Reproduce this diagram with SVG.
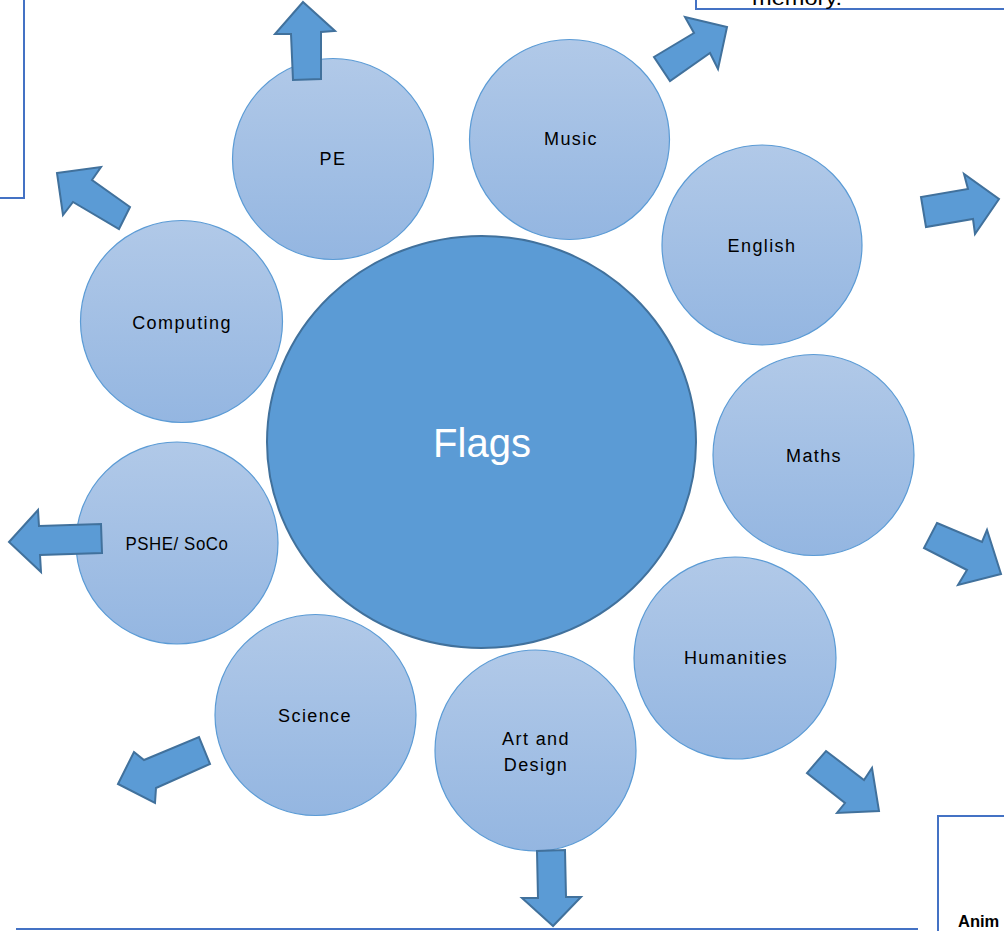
<svg xmlns="http://www.w3.org/2000/svg" width="1004" height="931" viewBox="0 0 1004 931">
<style>
.sub{fill:url(#g);stroke:#5b9bd5;stroke-width:1.2}
.lbl{font-family:"Liberation Sans",Arial,sans-serif;font-size:18px;letter-spacing:1.4px;fill:#000;text-anchor:middle}
.arr{fill:#5b9bd5;stroke:#41719c;stroke-width:2;stroke-linejoin:miter}
.box{fill:#fff;stroke:#4472c4;stroke-width:2}
</style>
<defs>
<linearGradient id="g" x1="0" y1="0" x2="0" y2="1">
<stop offset="0" stop-color="#b1c9e8"/>
<stop offset="1" stop-color="#94b6e1"/>
</linearGradient>
</defs>
<rect width="1004" height="931" fill="#fff"/>
<g id="box-topleft"><rect class="box" x="-10" y="-10" width="34" height="208"/></g>
<g id="box-topright"><rect class="box" x="696" y="-10" width="320" height="19"/>
<text x="797" y="5" font-family="Liberation Sans,Arial,sans-serif" font-size="20" text-anchor="middle" textLength="90" lengthAdjust="spacingAndGlyphs">memory.</text></g>
<g id="box-bottomright"><rect class="box" x="938" y="816" width="80" height="130"/>
<text x="958" y="927" font-family="Liberation Sans,Arial,sans-serif" font-size="16.5" font-weight="bold">Anim</text></g>
<line x1="16" y1="929" x2="918" y2="929" stroke="#4472c4" stroke-width="2"/>

<g id="flags"><ellipse cx="481.5" cy="442" rx="214.5" ry="206" fill="#5b9bd5" stroke="#41719c" stroke-width="2"/>
<text x="482" y="457" font-family="Liberation Sans,Arial,sans-serif" font-size="40" fill="#fff" text-anchor="middle">Flags</text></g>
<g id="pe"><circle class="sub" cx="333" cy="159" r="100.5"/><text class="lbl" x="333" y="165">PE</text></g>
<g id="music"><circle class="sub" cx="569.5" cy="139.5" r="100"/><text class="lbl" x="571" y="145">Music</text></g>
<g id="english"><circle class="sub" cx="762" cy="245" r="100"/><text class="lbl" x="762" y="252">English</text></g>
<g id="computing"><circle class="sub" cx="181.5" cy="321.5" r="101"/><text class="lbl" x="182" y="329">Computing</text></g>
<g id="maths"><circle class="sub" cx="813.5" cy="455" r="100.5"/><text class="lbl" x="814" y="462">Maths</text></g>
<g id="pshe"><circle class="sub" cx="177" cy="543" r="101"/><text class="lbl" x="177" y="550" textLength="103" lengthAdjust="spacingAndGlyphs" style="letter-spacing:0.6px">PSHE/ SoCo</text></g>
<g id="humanities"><circle class="sub" cx="735" cy="658" r="101"/><text class="lbl" x="736" y="664">Humanities</text></g>
<g id="science"><circle class="sub" cx="315.5" cy="715" r="100.5"/><text class="lbl" x="315" y="722">Science</text></g>
<g id="art"><circle class="sub" cx="535.5" cy="750.5" r="100.5"/><text class="lbl" x="536" y="745">Art and</text><text class="lbl" x="536" y="771">Design</text></g>

<g id="connectors">
<polygon class="arr" points="303,2 335,31 321,32 321,79 293,80 291,34 275,34"/>
<polygon class="arr" points="727,27 718,69 710,53 670,81 654,57 694,33 685,17"/>
<polygon class="arr" points="999,199 975,234 973,219 926,227 921,197 968,189 964,174"/>
<polygon class="arr" points="9,542 38,510 39,526 101,524 102,553 40,555 41,572"/>
<polygon class="arr" points="57,173 101,167 92,180 130,207 119,229 73,202 63,215"/>
<polygon class="arr" points="937,523 982,542 987,530 1001,574 958,585 967,570 924,548"/>
<polygon class="arr" points="826,751 864,780 872,768 879,811 837,813 845,803 807,773"/>
<polygon class="arr" points="118,784 134,752 144,760 199,737 210,764 156,788 155,803"/>
<polygon class="arr" points="553,926 522,898 538,898 537,851 565,850 566,897 581,897"/>
</g>
</svg>
